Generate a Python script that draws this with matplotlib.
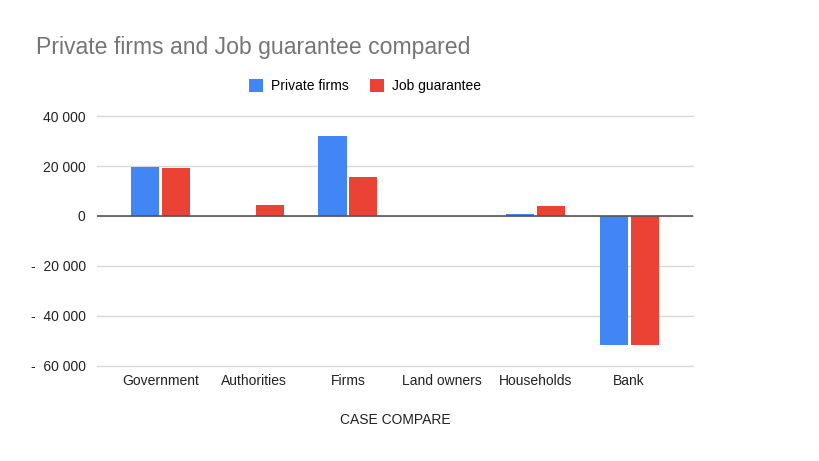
import matplotlib.pyplot as plt
import numpy as np

plt.rcParams['font.family'] = ['Liberation Sans', 'DejaVu Sans']

categorias = ['Government', 'Authorities', 'Firms', 'Land owners', 'Households', 'Bank']
private_firms = [19800, 0, 32000, 0, 600, -51800]
job_guarantee = [19100, 4200, 15500, 0, 4000, -51800]
yticks = [-60000, -40000, -20000, 0, 20000, 40000]


def rotulo(v):
    if v == 0:
        return '0'
    s = '{:,}'.format(abs(v)).replace(',', ' ')
    return ('-  ' + s) if v < 0 else s


fig = plt.figure(figsize=(8.2, 4.61), dpi=100)
ax = fig.add_axes([0.118, 0.207, 0.727, 0.541])

x = np.arange(len(categorias))
largura = 0.3
ax.bar(x - 0.165, private_firms, largura, color='#4285F4', label='Private firms', zorder=3)
ax.bar(x + 0.165, job_guarantee, largura, color='#EA4335', label='Job guarantee', zorder=3)

ax.set_xlim(-0.68, 5.68)
ax.set_ylim(-60000, 40000)
ax.set_yticks(yticks)
ax.set_yticklabels([rotulo(v) for v in yticks])
ax.set_xticks(x)
ax.set_xticklabels(categorias)
ax.tick_params(axis='y', length=0, labelsize=10, colors='#222222', pad=8)
ax.tick_params(axis='x', length=0, labelsize=10, colors='#222222', pad=6)
ax.grid(axis='y', color='#d9d9d9', linewidth=1, zorder=0)
for gl in ax.get_ygridlines():
    gl.set_clip_on(False)
ax.axhline(0, color='#555555', linewidth=1.2, zorder=4)
for s in ax.spines.values():
    s.set_visible(False)

ax.set_xlabel('CASE COMPARE', fontsize=10, color='#222222', labelpad=18)
fig.text(0.044, 0.896, 'Private firms and Job guarantee compared', fontsize=16.6,
         color='#757575', va='center')
fig.legend(loc='center', bbox_to_anchor=(0.445, 0.813), ncol=2, frameon=False,
           fontsize=10, handlelength=1, handleheight=1, columnspacing=1.5,
           handletextpad=0.6)

fig.savefig('out.png', dpi=100)
